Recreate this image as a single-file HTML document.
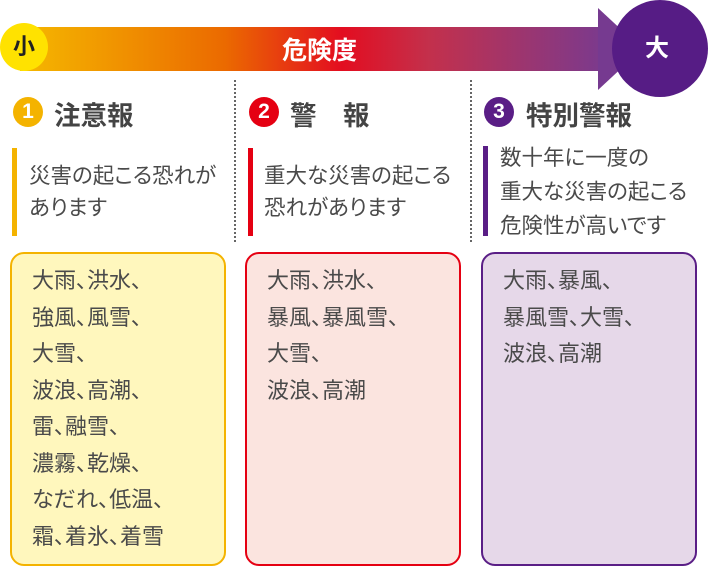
<!DOCTYPE html><html><head><meta charset="utf-8"><style>
body{margin:0;width:708px;height:569px;background:#fff;position:relative;overflow:hidden;font-family:"Liberation Sans","Noto Sans CJK JP",sans-serif;color:#4a4a4a;font-feature-settings:"palt"}
.a{position:absolute}
.h{font-size:26.5px;font-weight:bold;color:#444;top:94px;white-space:pre}
.n{width:30px;height:30px;border-radius:50%;color:#fff;font-size:21px;font-weight:bold;text-align:center;line-height:30px;top:97px}
.bar{width:5px;top:148px;height:88px}
.d{font-size:21.5px;line-height:32px;top:160px}
.box{top:252px;height:314px;width:216px;border:2px solid;border-radius:14px;box-sizing:border-box}
.bt{font-size:22px;line-height:36.5px;padding:9px 0 0 20px}
.dot{width:0;border-left:2px dotted #666;top:80px;height:162px}
</style></head><body>
<div class="a" style="left:20px;top:27px;width:585px;height:44px;background:linear-gradient(90deg,#f5b800 0%,#eb6a00 35%,#e30d20 55%,#c3304c 70%,#7a3a8e 100%)"></div>
<svg class="a" style="left:598px;top:8px" width="50" height="82"><polygon points="0,0 44,41 0,82" fill="#763a90"/></svg>
<div class="a" style="left:0px;top:23px;width:48px;height:48px;border-radius:50%;background:#ffe200;font-size:22px;font-weight:bold;color:#222;text-align:center;line-height:48px">小</div>
<div class="a" style="left:612px;top:0;width:96px;height:97px;border-radius:50%;background:#561c85;color:#fff;font-size:24px;font-weight:bold;line-height:97px;text-indent:33px">大</div>
<div class="a" style="left:282px;top:31px;font-size:25px;font-weight:bold;color:#fff">危険度</div>
<div class="a dot" style="left:234px"></div><div class="a dot" style="left:470px"></div>

<div class="a n" style="left:13px;background:#f4b300">1</div><div class="a h" style="left:54px">注意報</div>
<div class="a n" style="left:249px;background:#e50012">2</div><div class="a h" style="left:290px">警　報</div>
<div class="a n" style="left:484px;background:#5a1e86">3</div><div class="a h" style="left:526px">特別警報</div>

<div class="a bar" style="left:12px;background:#f4b300"></div>
<div class="a d" style="left:29px">災害の起こる恐れが<br>あります</div>
<div class="a bar" style="left:248px;background:#e50012"></div>
<div class="a d" style="left:264px">重大な災害の起こる<br>恐れがあります</div>
<div class="a bar" style="left:483px;background:#5a1e86;height:90px;top:146px"></div>
<div class="a d" style="left:500px;top:141px;line-height:34px">数十年に一度の<br>重大な災害の起こる<br>危険性が高いです</div>

<div class="a box bt" style="left:10px;border-color:#f4b300;background:#fff7bd">大雨、洪水、<br>強風、風雪、<br>大雪、<br>波浪、高潮、<br>雷、融雪、<br>濃霧、乾燥、<br>なだれ、低温、<br>霜、着氷、着雪</div>
<div class="a box bt" style="left:245px;border-color:#e50012;background:#fbe4df">大雨、洪水、<br>暴風、暴風雪、<br>大雪、<br>波浪、高潮</div>
<div class="a box bt" style="left:481px;border-color:#5a1e86;background:#e6d8e9">大雨、暴風、<br>暴風雪、大雪、<br>波浪、高潮</div>
</body></html>
